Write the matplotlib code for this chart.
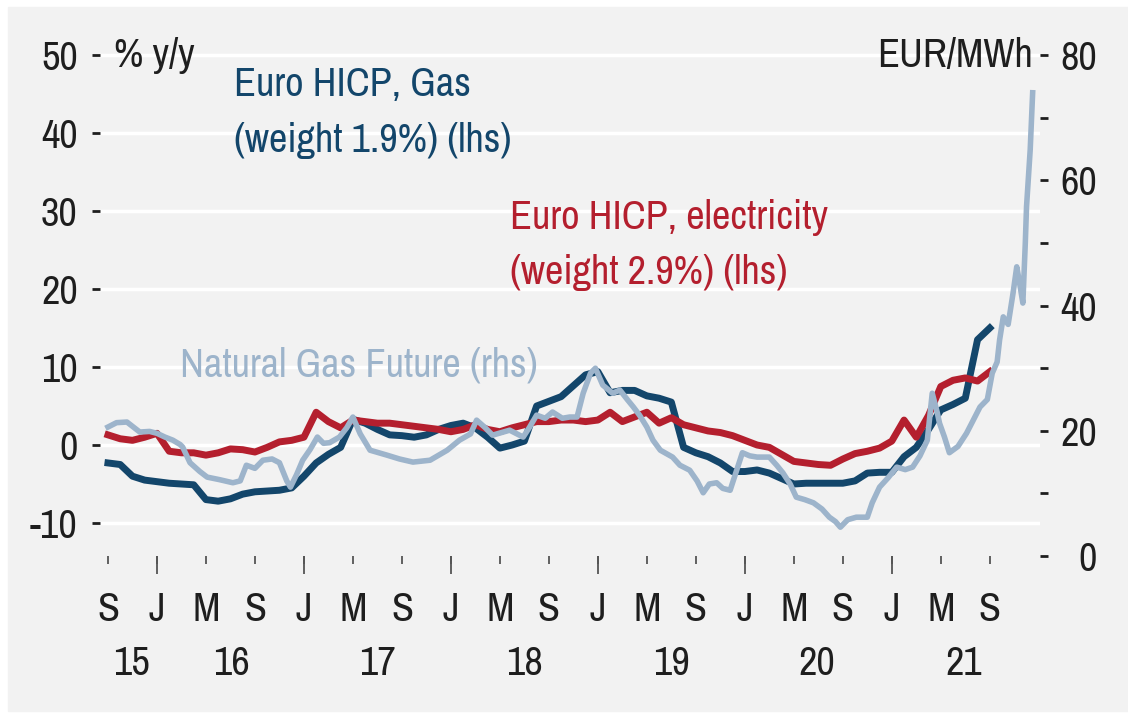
import matplotlib
matplotlib.use("Agg")
import matplotlib.pyplot as plt
from matplotlib import font_manager
from matplotlib.patches import Rectangle
import numpy as np

# months counted from Sep 2015 (= 0) to Sep 2021 (= 72)
months = np.arange(73)

# Euro HICP, gas, % y/y (lhs)
gas_hicp = [-2.3, -2.5, -4.0, -4.5, -4.7, -4.9, -5.0, -5.1, -7.0, -7.2,
            -6.9, -6.3, -6.0, -5.9, -5.8, -5.5, -4.0, -2.3, -1.2, -0.3,
            3.3, 2.8, 2.0, 1.3, 1.2, 1.0, 1.3, 2.0, 2.5, 2.8,
            2.2, 1.0, -0.4, 0.0, 0.5, 5.0, 5.6, 6.2, 7.6, 9.0,
            9.4, 6.7, 7.0, 7.0, 6.3, 6.0, 5.5, -0.3, -1.0, -1.5,
            -2.3, -3.4, -3.4, -3.2, -3.6, -4.3, -5.0, -4.9, -4.9, -4.9,
            -4.9, -4.6, -3.6, -3.5, -3.5, -1.5, -0.3, 2.0, 4.5, 5.2,
            6.0, 13.5, 15.0]

# Euro HICP, electricity, % y/y (lhs)
elec_hicp = [1.3, 0.8, 0.6, 1.0, 1.5, -0.8, -1.0, -1.0, -1.3, -1.0,
             -0.5, -0.6, -0.9, -0.3, 0.4, 0.6, 1.0, 4.2, 3.0, 2.2,
             3.2, 3.0, 2.8, 2.8, 2.6, 2.4, 2.2, 2.0, 1.7, 2.0,
             2.6, 2.0, 1.7, 2.2, 2.6, 3.0, 3.0, 3.2, 3.2, 3.0,
             3.2, 4.2, 3.0, 3.6, 4.2, 2.8, 3.5, 2.6, 2.2, 1.8,
             1.6, 1.2, 0.6, 0.0, -0.3, -1.2, -2.1, -2.3, -2.5, -2.6,
             -1.8, -1.1, -0.8, -0.4, 0.5, 3.2, 1.0, 3.8, 7.5, 8.3,
             8.6, 8.2, 9.4]

# Natural gas future, EUR/MWh (rhs), observations by month offset
future_months = [0.0, 0.7, 1.55, 2.6, 3.4, 4.0, 4.65, 5.3, 5.9, 6.1,
                 6.7, 7.5, 8.1, 9.1, 10.2, 10.8, 11.3, 12.0, 12.65, 13.4,
                 14.0, 14.6, 14.9, 15.4, 15.9, 16.5, 17.1, 17.6, 18.1, 18.9,
                 19.5, 20.0, 20.6, 21.4, 22.8, 23.8, 24.9, 26.3, 27.7, 28.7,
                 29.6, 30.1, 30.8, 31.4, 32.8, 33.9, 34.4, 35.0, 35.7, 36.3,
                 37.1, 37.7, 38.3, 38.8, 39.4, 39.8, 40.4, 41.2, 41.8, 42.4,
                 42.9, 43.4, 44.0, 44.5, 45.1, 46.1, 46.7, 47.5, 48.1, 48.6,
                 49.1, 49.7, 50.2, 50.8, 51.3, 51.8, 52.4, 53.0, 54.0, 54.6,
                 55.1, 55.7, 56.2, 56.9, 57.6, 58.3, 58.9, 59.4, 59.8, 60.4,
                 61.1, 62.0, 62.4, 63.0, 63.7, 64.4, 65.1, 65.7, 66.3, 66.9,
                 67.3, 67.7, 67.9, 68.3, 68.7, 69.4, 70.1, 70.6, 71.2, 71.8,
                 72.2, 72.6, 72.8, 73.1, 73.5, 73.9, 74.2, 74.4, 74.7, 74.9,
                 75.0, 75.3, 75.5]
future_price = [20.6, 21.3, 21.4, 19.8, 19.9, 19.6, 19.0, 18.5, 17.8, 17.4,
                14.9, 13.5, 12.6, 12.2, 11.7, 12.0, 14.5, 14.0, 15.3, 15.5,
                14.9, 12.0, 11.0, 13.0, 15.3, 17.0, 19.0, 18.0, 18.1, 19.0,
                20.5, 22.2, 19.5, 16.9, 16.1, 15.5, 15.0, 15.3, 16.9, 18.5,
                19.5, 21.7, 20.5, 19.3, 20.1, 19.0, 20.5, 22.5, 22.0, 23.0,
                22.0, 22.2, 22.2, 26.0, 29.2, 30.0, 27.3, 26.0, 26.5, 25.0,
                23.8, 22.5, 20.6, 18.5, 16.9, 15.8, 14.5, 13.7, 12.0, 10.1,
                11.5, 11.7, 10.8, 10.5, 13.5, 16.5, 16.0, 15.8, 15.8, 14.5,
                13.3, 11.5, 9.4, 9.0, 8.5, 7.5, 6.2, 5.5, 4.6, 5.8,
                6.2, 6.2, 8.5, 11.0, 12.5, 14.2, 13.8, 14.2, 16.0, 18.5,
                26.0, 23.0, 21.2, 19.0, 16.5, 17.5, 19.6, 21.5, 23.8, 25.0,
                29.2, 31.0, 34.5, 38.2, 37.0, 42.0, 46.2, 44.0, 40.4, 50.0,
                55.8, 64.9, 74.0]

tick_months = np.arange(0, 73, 4)
tick_labels = ['S', 'J', 'M'] * 6 + ['S']
jan_months = np.arange(4, 73, 12)
year_months = [1.9, 10.1, 22.0, 34.0, 46.0, 57.9, 69.9]
year_labels = ['15', '16', '17', '18', '19', '20', '21']

left_ticks = np.arange(-10, 51, 10)
right_ticks = np.arange(0, 81, 20)
right_minor = np.arange(10, 80, 20)

DARK = '#13466b'
RED = '#b41f2e'
LIGHT = '#9db4cb'
BG = '#f2f2f2'
INK = '#1e1e1e'


def pick_font():
    """Look for a narrow sans face, the original uses a condensed font."""
    fonts = font_manager.fontManager.ttflist
    for f in fonts:
        fn = f.fname.lower()
        if 'narrow' in fn and f.style == 'normal' and f.weight in (400, 'normal', 'regular'):
            return f.name, 'normal', 29
    for f in fonts:
        if f.name == 'DejaVu Sans' and f.stretch == 'condensed' and f.style == 'normal' \
                and f.weight in (400, 'normal', 'regular'):
            return 'DejaVu Sans', 'condensed', 25
    names = {f.name for f in fonts}
    if 'Roboto' in names:
        return 'Roboto', 'normal', 25
    return 'DejaVu Sans', 'normal', 22.5


family, stretch, FS = pick_font()
plt.rcParams['font.family'] = [family, 'DejaVu Sans']
plt.rcParams['font.stretch'] = stretch

fig = plt.figure(figsize=(11.28, 7.18), dpi=100, facecolor='white')
fig.patches.append(Rectangle((8 / 1128, 7 / 718), 1, 704 / 718,
                             transform=fig.transFigure, color=BG, zorder=-10))

ax = fig.add_axes([100 / 1128, 162 / 718, 940 / 1128, 508 / 718])
ax.set_facecolor('none')
ax.set_xlim(-0.65, 76.1)
ax.set_ylim(-14.23, 50.9)

ax.plot(months, gas_hicp, color=DARK, lw=5, solid_joinstyle='round', zorder=3)
ax.plot(months, elec_hicp, color=RED, lw=5, solid_joinstyle='round', zorder=3)

ax.set_yticks(left_ticks)
ax.set_yticklabels([str(v) for v in left_ticks])
ax.yaxis.grid(True, color='white', lw=2.5)
ax.set_axisbelow(True)
ax.tick_params(axis='y', length=6, width=2, color=INK, pad=10,
               labelsize=FS, labelcolor=INK)

ax.set_xticks(tick_months)
ax.set_xticklabels(tick_labels)
ax.set_xticks(jan_months, minor=True)
ax.xaxis.remove_overlapping_locs = False
ax.tick_params(axis='x', which='major', length=6, width=1.3, color='#555555',
               pad=19, labelsize=FS, labelcolor=INK)
ax.tick_params(axis='x', which='minor', length=13, width=1.3, color='#555555')
for m, lab in zip(year_months, year_labels):
    ax.text(m, -0.212, lab, transform=ax.get_xaxis_transform(), ha='center',
            va='center', fontsize=FS, color=INK)

for s in ax.spines.values():
    s.set_visible(False)

ax2 = ax.twinx()
ax2.set_ylim(0, 81.15)
ax2.plot(future_months, future_price, color=LIGHT, lw=4, zorder=2)
ax2.set_yticks(right_ticks)
ax2.set_yticklabels([str(v) for v in right_ticks])
ax2.set_yticks(right_minor, minor=True)
ax2.tick_params(axis='y', which='both', length=6, width=2, color=INK)
ax2.tick_params(axis='y', which='major', pad=35, labelsize=FS, labelcolor=INK)
for lbl in ax2.get_yticklabels():
    lbl.set_horizontalalignment('right')
for s in ax2.spines.values():
    s.set_visible(False)

ax.text(0.5, 50, '% y/y', fontsize=FS, color=INK, ha='left', va='center')
ax2.text(75.5, 80, 'EUR/MWh', fontsize=FS, color=INK, ha='right', va='center')
ax.text(10.3, 48.6, 'Euro HICP, Gas\n(weight 1.9%) (lhs)', fontsize=FS,
        color=DARK, ha='left', va='top', linespacing=1.62)
ax.text(32.8, 31.6, 'Euro HICP, electricity\n(weight 2.9%) (lhs)', fontsize=FS,
        color=RED, ha='left', va='top', linespacing=1.62)
ax.text(5.9, 10.3, 'Natural Gas Future (rhs)', fontsize=FS, color=LIGHT,
        ha='left', va='center')

fig.savefig('out.png', dpi=100, facecolor=fig.get_facecolor())
